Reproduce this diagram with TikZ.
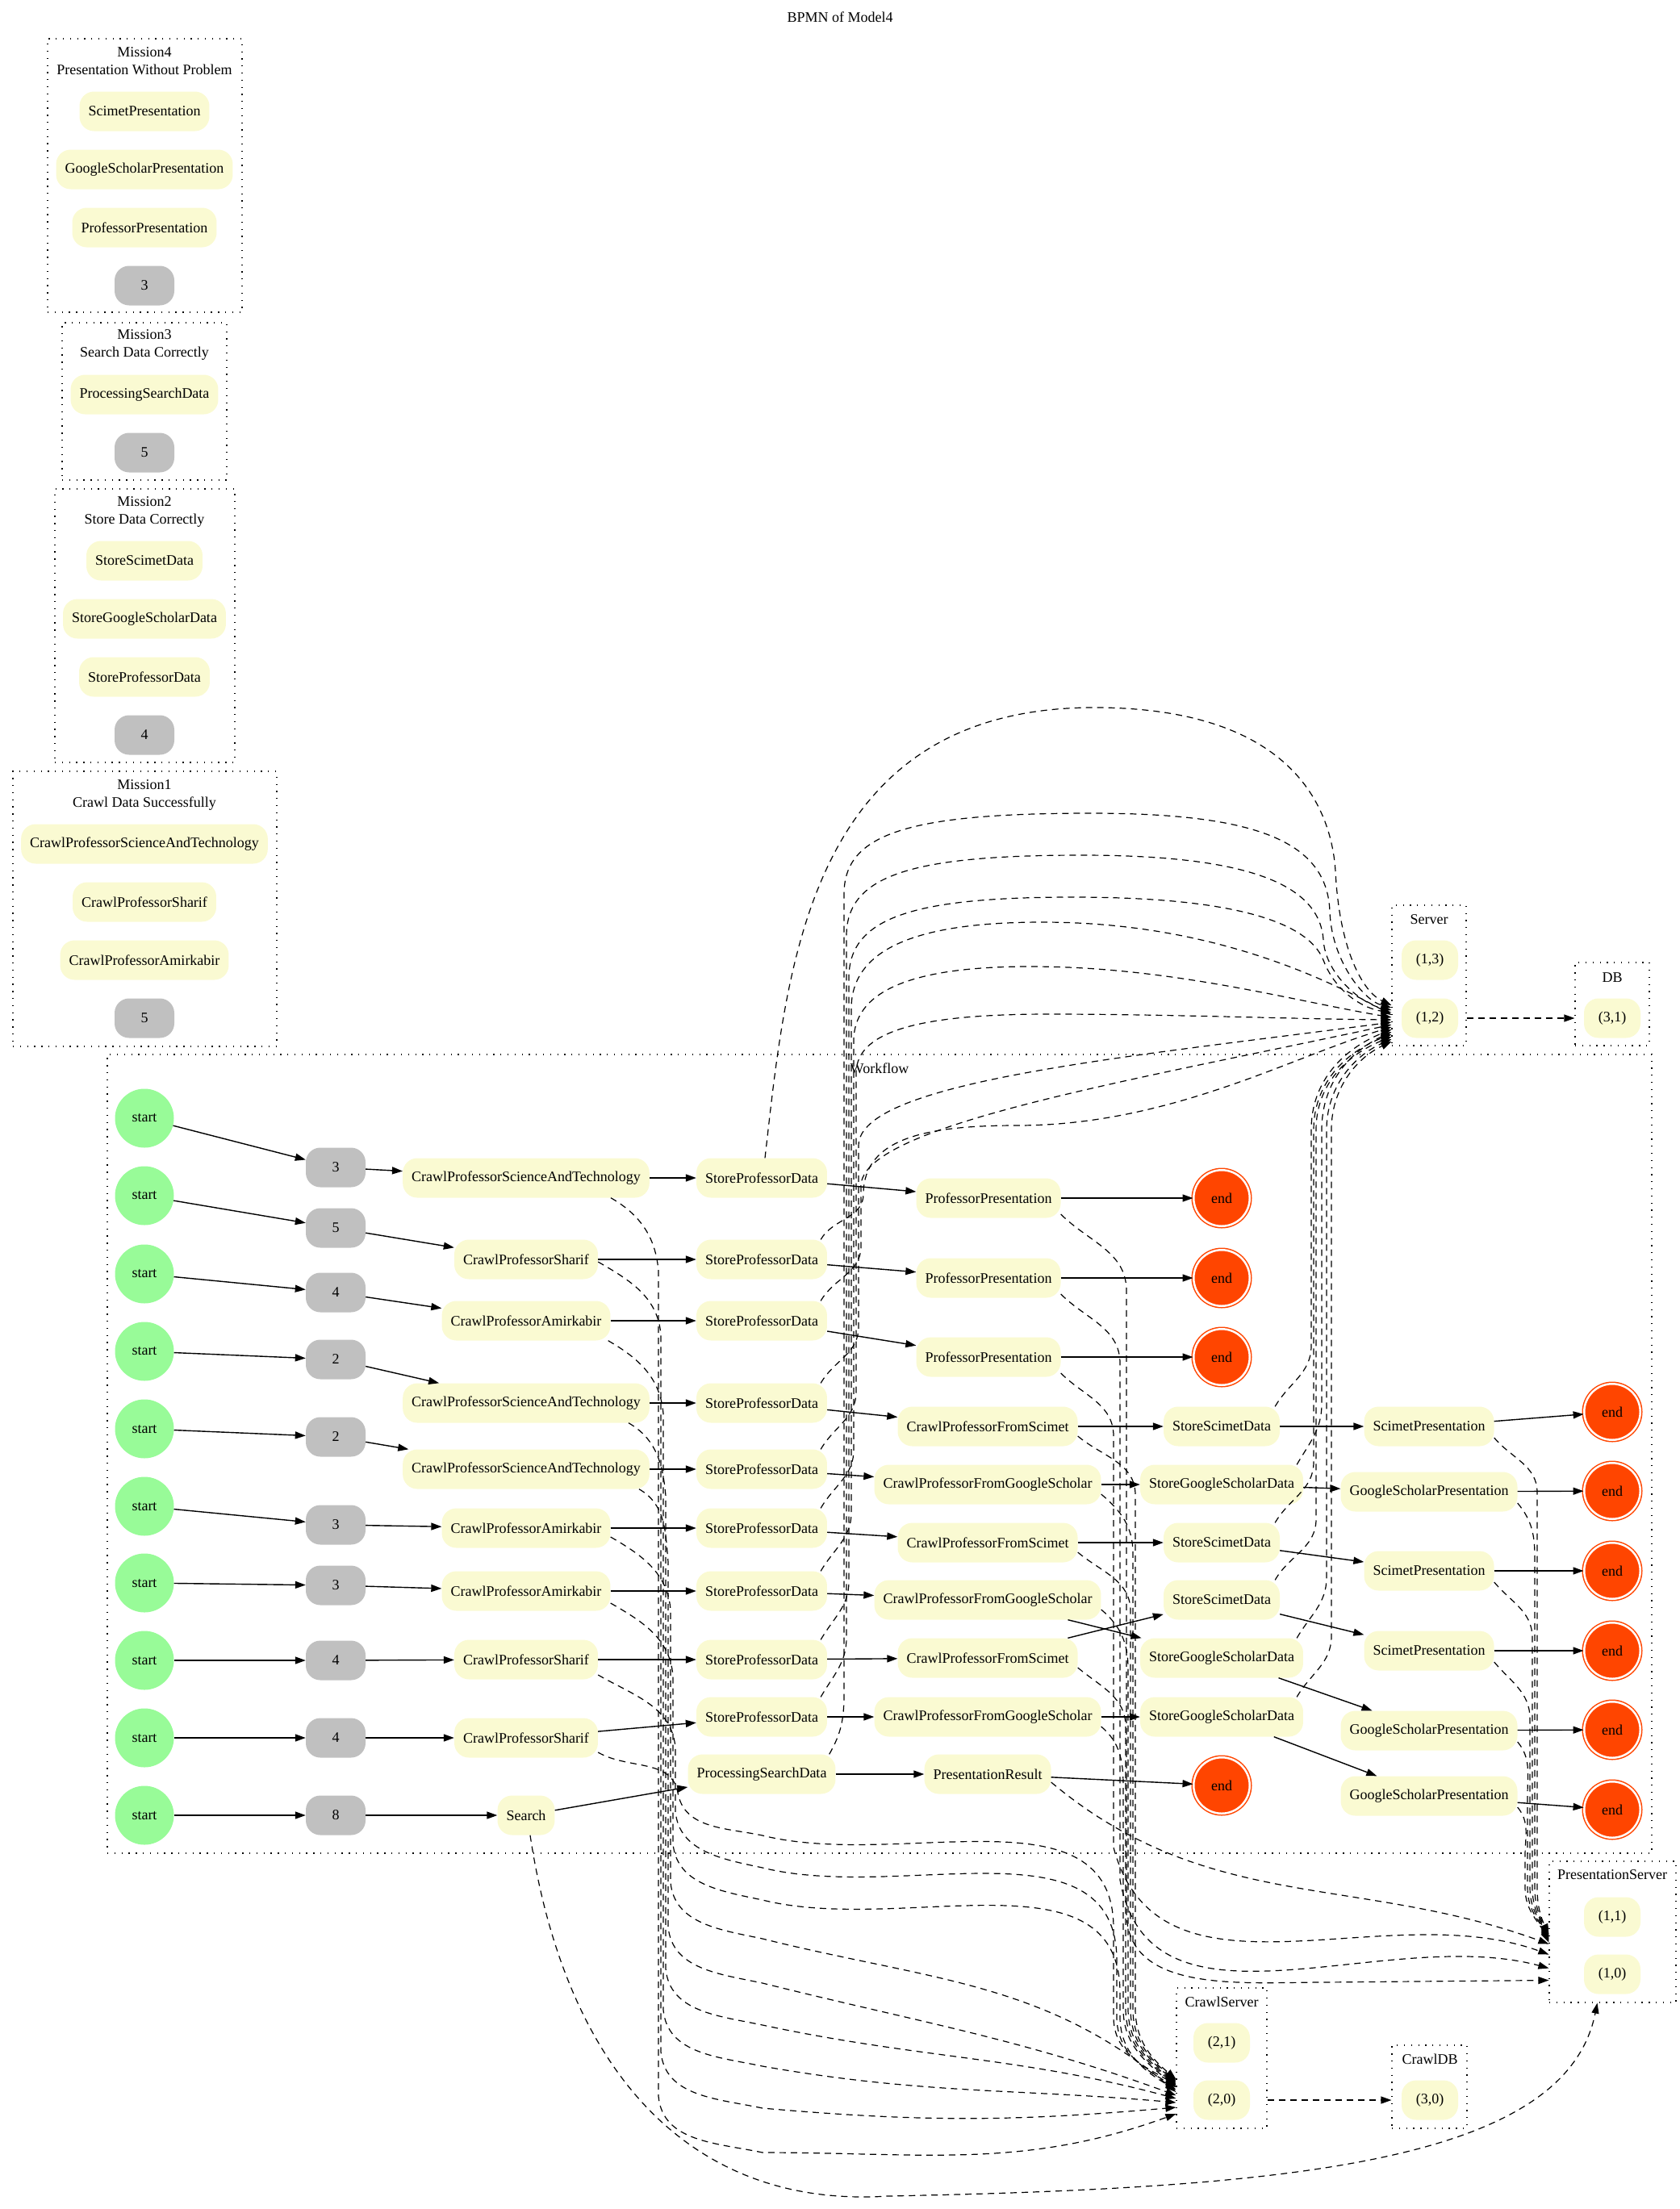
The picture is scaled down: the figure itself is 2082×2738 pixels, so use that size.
\documentclass[tikz,border=0pt]{standalone}
\usepackage{fontspec}
\setmainfont{Liberation Serif}
\usetikzlibrary{arrows.meta,calc}
\definecolor{taskfill}{HTML}{FAFAD2}
\definecolor{cntfill}{HTML}{C0C0C0}
\definecolor{startfill}{HTML}{98FB98}
\definecolor{endfill}{HTML}{FF4500}
\newcommand{\gvfont}{\fontsize{18}{22}\selectfont}
\begin{document}
\begin{tikzpicture}[x=1pt,y=-1pt,
  every node/.style={font=\gvfont, inner sep=0pt},
  task/.style={rectangle, rounded corners=18pt, fill=taskfill, minimum height=49pt, minimum width=70pt, inner xsep=11pt},
  cnt/.style={task, fill=cntfill, minimum width=74pt},
  startev/.style={circle, fill=startfill, minimum size=73pt},
  endev/.style={circle, draw=endfill, fill=endfill, line width=1.5pt, double=white, double distance=2.5pt, minimum size=69.5pt},
  clus/.style={draw, line width=1.2pt, dash pattern=on 1.3pt off 7.5pt},
  flow/.style={line width=1.4pt, -{Triangle[length=13pt,width=9pt]}},
  dep/.style={line width=1.2pt, dash pattern=on 8pt off 6pt, -{Triangle[length=13pt,width=9pt]}},
]
\useasboundingbox (0,0) rectangle (2082,2738);

\node (title) at (1041,21) {BPMN of Model4};

% ---------------- mission clusters ----------------
\node[clus, minimum width=241pt, minimum height=339pt] (m4box) at (179.5,217.5) {};
\node[align=center] (m4lab) at (179,76) {Mission4\\Presentation Without Problem};
\node[task] (m4a) at (179,138) {ScimetPresentation};
\node[task] (m4b) at (179,210) {GoogleScholarPresentation};
\node[task] (m4c) at (179,282) {ProfessorPresentation};
\node[cnt] (m4n) at (179,354) {3};

\node[clus, minimum width=204pt, minimum height=195pt] (m3box) at (179,497.5) {};
\node[align=center] (m3lab) at (179,427) {Mission3\\Search Data Correctly};
\node[task] (m3a) at (179,489) {ProcessingSearchData};
\node[cnt] (m3n) at (179,561) {5};

\node[clus, minimum width=223pt, minimum height=339pt] (m2box) at (179.5,775.5) {};
\node[align=center] (m2lab) at (179,634) {Mission2\\Store Data Correctly};
\node[task] (m2a) at (179,695) {StoreScimetData};
\node[task] (m2b) at (179,767) {StoreGoogleScholarData};
\node[task] (m2c) at (179,839) {StoreProfessorData};
\node[cnt] (m2n) at (179,911) {4};

\node[clus, minimum width=327pt, minimum height=341pt] (m1box) at (179.5,1126.5) {};
\node[align=center] (m1lab) at (179,985) {Mission1\\Crawl Data Successfully};
\node[task] (m1a) at (179,1046) {CrawlProfessorScienceAndTechnology};
\node[task] (m1b) at (179,1118) {CrawlProfessorSharif};
\node[task] (m1c) at (179,1190) {CrawlProfessorAmirkabir};
\node[cnt] (m1n) at (179,1262) {5};

% ---------------- resource clusters ----------------
\node[clus, minimum width=92pt, minimum height=174pt] (svbox) at (1771,1209) {};
\node (svlab) at (1771,1140) {Server};
\node[task] (r13) at (1772,1190) {(1,3)};
\node[task] (r12) at (1772,1262) {(1,2)};

\node[clus, minimum width=92pt, minimum height=103pt] (dbbox) at (1998,1244.5) {};
\node (dblab) at (1998,1212) {DB};
\node[task] (r31) at (1998,1262) {(3,1)};

\node[clus, minimum width=157pt, minimum height=175pt] (psbox) at (1998.5,2394.5) {};
\node (pslab) at (1998,2324) {PresentationServer};
\node[task] (r11) at (1998,2376) {(1,1)};
\node[task] (r10) at (1998,2447) {(1,0)};

\node[clus, minimum width=112pt, minimum height=174pt] (csbox) at (1514,2551) {};
\node (cslab) at (1514,2481) {CrawlServer};
\node[task] (r21) at (1514,2532) {(2,1)};
\node[task] (r20) at (1514,2603) {(2,0)};

\node[clus, minimum width=93pt, minimum height=103pt] (cdbox) at (1771.5,2586.5) {};
\node (cdlab) at (1772,2552) {CrawlDB};
\node[task] (r30) at (1772,2603) {(3,0)};

% ---------------- workflow ----------------
\node[clus, minimum width=1914pt, minimum height=990pt] (wfbox) at (1090,1802) {};
\node (wflab) at (1090,1324) {Workflow};

\foreach \k/\y in {1/1386,2/1482,3/1579,4/1675,5/1771,6/1867,7/1962,8/2058,9/2154,10/2250}
  \node[startev] (st\k) at (179,\y) {start};
\foreach \k/\y/\t in {1/1447/3,2/1522/5,3/1602/4,4/1685/2,5/1781/2,6/1890/3,7/1965/3,8/2058/4,9/2154/4,10/2250/8}
  \node[cnt] (g\k) at (416,\y) {\t};

\node[task] (c1) at (652,1460) {CrawlProfessorScienceAndTechnology};
\node[task] (c2) at (652,1561) {CrawlProfessorSharif};
\node[task] (c3) at (652,1637) {CrawlProfessorAmirkabir};
\node[task] (c4) at (652,1739) {CrawlProfessorScienceAndTechnology};
\node[task] (c5) at (652,1821) {CrawlProfessorScienceAndTechnology};
\node[task] (c6) at (652,1894) {CrawlProfessorAmirkabir};
\node[task] (c7) at (652,1972) {CrawlProfessorAmirkabir};
\node[task] (c8) at (652,2057) {CrawlProfessorSharif};
\node[task] (c9) at (652,2154) {CrawlProfessorSharif};
\node[task] (c10) at (652,2250) {Search};

\foreach \k/\y in {1/1460,2/1561,3/1637,4/1739,5/1821,6/1894,7/1972,8/2057,9/2128}
  \node[task] (d\k) at (944,\y) {StoreProfessorData};
\node[task] (d10) at (944,2199) {ProcessingSearchData};

\node[task] (pp1) at (1225,1485) {ProfessorPresentation};
\node[task] (pp2) at (1225,1584) {ProfessorPresentation};
\node[task] (pp3) at (1225,1682) {ProfessorPresentation};
\node[task] (cs1) at (1224,1768) {CrawlProfessorFromScimet};
\node[task] (cg1) at (1224,1840) {CrawlProfessorFromGoogleScholar};
\node[task] (cs2) at (1224,1912) {CrawlProfessorFromScimet};
\node[task] (cg2) at (1224,1983) {CrawlProfessorFromGoogleScholar};
\node[task] (cs3) at (1224,2055) {CrawlProfessorFromScimet};
\node[task] (cg3) at (1224,2128) {CrawlProfessorFromGoogleScholar};
\node[task] (pr) at (1224,2199) {PresentationResult};

\node[endev] (e1) at (1514,1485) {end};
\node[endev] (e2) at (1514,1584) {end};
\node[endev] (e3) at (1514,1682) {end};
\node[endev] (e4) at (1514,2213) {end};
\node[task] (ss1) at (1514,1768) {StoreScimetData};
\node[task] (sg1) at (1514,1840) {StoreGoogleScholarData};
\node[task] (ss2) at (1514,1912) {StoreScimetData};
\node[task] (ss3) at (1514,1983) {StoreScimetData};
\node[task] (sg2) at (1514,2055) {StoreGoogleScholarData};
\node[task] (sg3) at (1514,2128) {StoreGoogleScholarData};

\node[task] (sp1) at (1771,1768) {ScimetPresentation};
\node[task] (gp1) at (1771,1849) {GoogleScholarPresentation};
\node[task] (sp2) at (1771,1947) {ScimetPresentation};
\node[task] (sp3) at (1771,2046) {ScimetPresentation};
\node[task] (gp2) at (1771,2145) {GoogleScholarPresentation};
\node[task] (gp3) at (1771,2226) {GoogleScholarPresentation};

\foreach \k/\y in {1/1750,2/1848,3/1947,4/2046,5/2144,6/2243}
  \node[endev] (f\k) at (1998,\y) {end};

% ---------------- sequence flow ----------------
\foreach \k in {1,...,10} {
  \draw[flow] (st\k) -- (g\k);
  \draw[flow] (g\k) -- (c\k);
  \draw[flow] (c\k) -- (d\k);
}
\draw[flow] (d1) -- (pp1);
\draw[flow] (d2) -- (pp2);
\draw[flow] (d3) -- (pp3);
\draw[flow] (d4) -- (cs1);
\draw[flow] (d5) -- (cg1);
\draw[flow] (d6) -- (cs2);
\draw[flow] (d7) -- (cg2);
\draw[flow] (d8) -- (cs3);
\draw[flow] (d9) -- (cg3);
\draw[flow] (d10) -- (pr);
\draw[flow] (pp1) -- (e1);
\draw[flow] (pp2) -- (e2);
\draw[flow] (pp3) -- (e3);
\draw[flow] (pr) -- (e4);
\draw[flow] (cs1) -- (ss1);
\draw[flow] (cg1) -- (sg1);
\draw[flow] (cs2) -- (ss2);
\draw[flow] (cg2) -- (sg2);
\draw[flow] (cs3) -- (ss3);
\draw[flow] (cg3) -- (sg3);
\draw[flow] (ss1) -- (sp1);
\draw[flow] (sg1) -- (gp1);
\draw[flow] (ss2) -- (sp2);
\draw[flow] (ss3) -- (sp3);
\draw[flow] (sg2) -- (gp2);
\draw[flow] (sg3) -- (gp3);
\draw[flow] (sp1) -- (f1);
\draw[flow] (gp1) -- (f2);
\draw[flow] (sp2) -- (f3);
\draw[flow] (sp3) -- (f4);
\draw[flow] (gp2) -- (f5);
\draw[flow] (gp3) -- (f6);

% ---------------- resource assignments: crawl tasks -> CrawlServer ----------------
\draw[dep] ([xshift=105pt]c1.south) to[out=-30,in=95] (816,1575) -- (816,2598) to[out=-85,in=168] (945,2668) to[out=0,in=-160] ($(csbox.west)+(0,69)$);
\draw[dep] ([yshift=-3pt]c2.east) to[out=-30,in=95] (819,1654) -- (819,2543) to[out=-85,in=168] (945,2613) to[out=-5,in=-175] ($(csbox.west)+(0,61)$);
\draw[dep] ([xshift=-3pt]c3.south east) to[out=-30,in=95] (822,1752) -- (822,2491) to[out=-85,in=168] (945,2561) to[out=-10,in=175] ($(csbox.west)+(0,55)$);
\draw[dep] ([xshift=127pt]c4.south) to[out=-30,in=95] (825,1854) -- (825,2440) to[out=-85,in=168] (945,2510) to[out=-12,in=165] ($(csbox.west)+(0,50)$);
\draw[dep] ([xshift=140pt]c5.south) to[out=-30,in=95] (828,1936) -- (828,2388) to[out=-85,in=168] (945,2458) to[out=-14,in=160] ($(csbox.west)+(0,46)$);
\draw[dep] ([yshift=-11pt]c6.east) to[out=-30,in=95] (831,1995) -- (831,2333) to[out=-85,in=168] (945,2403) to[out=-14,in=140] ($(csbox.west)+(0,42)$);
\draw[dep] ([yshift=-15pt]c7.east) to[out=-30,in=95] (834,2077) -- (834,2285) to[out=-85,in=168] (945,2355) to[out=-14,in=90] (1388,2470) -- (1388,2500) to[out=-90,in=150] ($(csbox.west)+(0,39)$);
\draw[dep] ([yshift=-19pt]c8.east) to[out=-30,in=95] (837,2166) -- (837,2245) to[out=-85,in=168] (945,2315) to[out=-14,in=90] (1384,2430) -- (1384,2500) to[out=-90,in=150] ($(csbox.west)+(0,36)$);
\draw[dep] ([yshift=-18pt]c9.east) to[out=-30,in=100] (840,2222) to[out=-80,in=168] (945,2275) to[out=-14,in=90] (1380,2390) -- (1380,2500) to[out=-90,in=150] ($(csbox.west)+(0,33)$);

\draw[dep] ([yshift=-12pt]cs1.east) to[out=-40,in=90] (1407,1853) -- (1407,2490) to[out=-90,in=140] ($(csbox.west)+(0,26)$);
\draw[dep] ([yshift=-12pt]cg1.east) to[out=-40,in=90] (1404,1925) -- (1404,2490) to[out=-90,in=140] ($(csbox.west)+(0,28)$);
\draw[dep] ([yshift=-12pt]cs2.east) to[out=-40,in=90] (1401,1997) -- (1401,2490) to[out=-90,in=140] ($(csbox.west)+(0,30)$);
\draw[dep] ([yshift=-12pt]cg2.east) to[out=-40,in=90] (1398,2068) -- (1398,2490) to[out=-90,in=140] ($(csbox.west)+(0,32)$);
\draw[dep] ([yshift=-12pt]cs3.east) to[out=-40,in=90] (1395,2140) -- (1395,2490) to[out=-90,in=140] ($(csbox.west)+(0,34)$);
\draw[dep] ([yshift=-12pt]cg3.east) to[out=-40,in=90] (1392,2213) -- (1392,2490) to[out=-90,in=140] ($(csbox.west)+(0,36)$);

% ---------------- store / processing tasks -> Server ----------------
\draw[dep] ([xshift=4pt]d1.north) .. controls (975,1200) and (1000,877) .. (1356,877) .. controls (1600,877) and (1650,1000) .. (1655,1080) .. controls (1660,1180) and (1690,1230) .. ($(svbox.west)+(0,37)$);
\draw[dep] ([xshift=-8pt]d10.north east) to[out=60,in=-90] (1046,2100) -- (1046,1108) .. controls (1046,1033) and (1126,1008) .. (1352,1008) .. controls (1550,1008) and (1645,1040) .. (1648,1130) .. controls (1650,1190) and (1690,1240) .. ($(svbox.west)+(0,40)$);
\draw[dep] ([xshift=-8pt]d9.north east) to[out=60,in=-90] (1049,2030) -- (1049,1160) .. controls (1049,1085) and (1129,1060) .. (1340,1060) .. controls (1530,1060) and (1635,1090) .. (1640,1165) .. controls (1643,1210) and (1690,1245) .. ($(svbox.west)+(0,43)$);
\draw[dep] ([xshift=-8pt]d8.north east) to[out=60,in=-90] (1052,1960) -- (1052,1212) .. controls (1052,1137) and (1132,1112) .. (1330,1112) .. controls (1520,1112) and (1620,1140) .. (1640,1190) .. controls (1655,1230) and (1690,1250) .. ($(svbox.west)+(0,46)$);
\draw[dep] ([xshift=-8pt]d7.north east) to[out=60,in=-90] (1055,1875) -- (1055,1250) .. controls (1055,1170) and (1150,1143) .. (1292,1143) .. controls (1480,1143) and (1620,1200) .. ($(svbox.west)+(0,49)$);
\draw[dep] ([xshift=-8pt]d6.north east) to[out=60,in=-90] (1058,1797) -- (1058,1290) .. controls (1058,1220) and (1150,1198) .. (1277,1198) .. controls (1450,1198) and (1600,1240) .. ($(svbox.west)+(0,52)$);
\draw[dep] ([xshift=-8pt]d5.north east) to[out=60,in=-90] (1061,1725) -- (1061,1330) .. controls (1061,1275) and (1150,1257) .. (1300,1257) .. controls (1450,1257) and (1600,1263) .. ($(svbox.west)+(0,55)$);
\draw[dep] ([xshift=-8pt]d4.north east) to[out=60,in=-90] (1064,1645) -- (1064,1420) .. controls (1064,1340) and (1400,1310) .. ($(svbox.west)+(0,58)$);
\draw[dep] ([xshift=-8pt]d3.north east) to[out=60,in=-90] (1067,1545) -- (1067,1470) .. controls (1067,1395) and (1400,1340) .. ($(svbox.west)+(0,61)$);
\draw[dep] ([xshift=-8pt]d2.north east) to[out=60,in=-90] (1070,1480) .. controls (1070,1410) and (1150,1395) .. (1260,1395) .. controls (1450,1395) and (1600,1310) .. ($(svbox.west)+(0,64)$);

\draw[dep] ([xshift=-6pt]ss1.north east) to[out=60,in=-90] (1625,1668) -- (1625,1400) .. controls (1625,1340) and (1665,1300) .. ($(svbox.west)+(0,67)$);
\draw[dep] ([xshift=-8pt]sg1.north east) to[out=60,in=-90] (1638,1740) -- (1638,1400) .. controls (1638,1345) and (1670,1305) .. ($(svbox.west)+(0,70)$);
\draw[dep] ([xshift=-6pt]ss2.north east) to[out=60,in=-90] (1628,1812) -- (1628,1400) .. controls (1628,1345) and (1665,1305) .. ($(svbox.west)+(0,73)$);
\draw[dep] ([xshift=-6pt]ss3.north east) to[out=60,in=-90] (1631,1883) -- (1631,1400) .. controls (1631,1345) and (1668,1308) .. ($(svbox.west)+(0,76)$);
\draw[dep] ([xshift=-8pt]sg2.north east) to[out=60,in=-90] (1644,1955) -- (1644,1400) .. controls (1644,1350) and (1675,1310) .. ($(svbox.west)+(0,79)$);
\draw[dep] ([xshift=-8pt]sg3.north east) to[out=60,in=-90] (1650,2028) -- (1650,1400) .. controls (1650,1350) and (1680,1312) .. ($(svbox.west)+(0,82)$);

% ---------------- presentation tasks -> PresentationServer ----------------
\draw[dep] ([yshift=-20pt]pp1.east) to[out=-45,in=90] (1396,1600) -- (1396,2370) to[out=-90,in=180] (1640,2457) -- ($(psbox.west)+(0,60)$);
\draw[dep] ([yshift=-20pt]pp2.east) to[out=-45,in=90] (1388,1690) -- (1388,2330) to[out=-80,in=165] ($(psbox.west)+(0,45)$);
\draw[dep] ([yshift=-20pt]pp3.east) to[out=-45,in=90] (1380,1780) -- (1380,2290) to[out=-75,in=160] ($(psbox.west)+(0,28)$);
\draw[dep] ([yshift=-10pt]pr.east) to[out=-40,in=160] ($(psbox.west)+(0,15)$);

\draw[dep] ([yshift=-14pt]sp1.east) to[out=-50,in=90] (1905,1850) -- (1905,2340) to[out=-90,in=115] ($(psbox.west)+(0,3)$);
\draw[dep] ([yshift=-14pt]gp1.east) to[out=-50,in=90] (1902,1930) -- (1902,2340) to[out=-90,in=115] ($(psbox.west)+(0,5)$);
\draw[dep] ([yshift=-14pt]sp2.east) to[out=-50,in=90] (1899,2030) -- (1899,2340) to[out=-90,in=115] ($(psbox.west)+(0,7)$);
\draw[dep] ([yshift=-14pt]sp3.east) to[out=-50,in=90] (1896,2130) -- (1896,2340) to[out=-90,in=115] ($(psbox.west)+(0,9)$);
\draw[dep] ([yshift=-14pt]gp2.east) to[out=-50,in=90] (1893,2225) -- (1893,2340) to[out=-90,in=115] ($(psbox.west)+(0,11)$);
\draw[dep] ([yshift=-14pt]gp3.east) to[out=-50,in=90] (1890,2300) -- (1890,2340) to[out=-90,in=115] ($(psbox.west)+(0,13)$);

\draw[dep] ([xshift=5pt]c10.south) .. controls (700,2560) and (850,2738) .. (1100,2722) .. controls (1600,2712) and (1940,2680) .. ($(psbox.south)+(-19,0)$);

% ---------------- servers -> databases ----------------
\draw[dep] (r12 -| svbox.east) -- (r12 -| dbbox.west);
\draw[dep] (r20 -| csbox.east) -- (r20 -| cdbox.west);
\end{tikzpicture}
\end{document}
